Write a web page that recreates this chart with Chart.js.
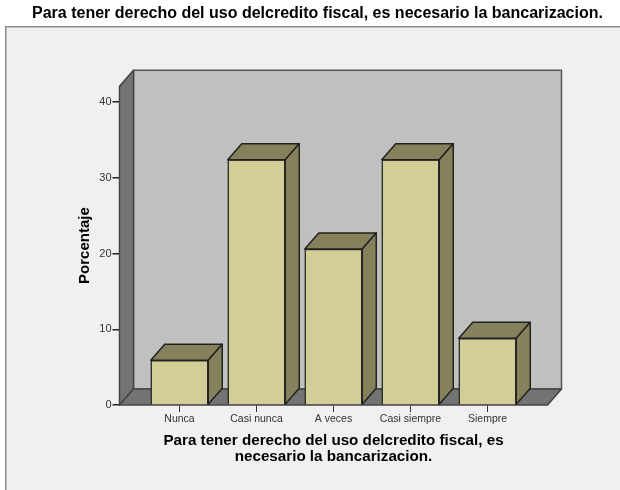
<!DOCTYPE html>
<html lang="es">
<head>
  <meta charset="UTF-8">
  <title>Bancarizacion</title>
  <style>
    html, body { margin: 0; padding: 0; background: #fff; }
    canvas { display: block; }
  </style>
</head>
<body>
  <canvas id="chart" width="620" height="490"></canvas>

  <script src="https://cdn.jsdelivr.net/npm/chart.js"></script>
  <script>
    const categories = ['Nunca', 'Casi nunca', 'A veces', 'Casi siempre', 'Siempre'];
    const porcentaje = [5.9, 32.4, 20.6, 32.4, 8.8];
    const titleText = 'Para tener derecho del uso delcredito fiscal, es necesario la bancarizacion.';
    const xTitleLines = ['Para tener derecho del uso delcredito fiscal, es', 'necesario la bancarizacion.'];
    const yTitleText = 'Porcentaje';

    const DEPTH_X = 14, DEPTH_Y = 16;

    function poly(ctx, pts, fill, stroke, lw) {
      ctx.beginPath();
      pts.forEach((p, i) => i ? ctx.lineTo(p[0], p[1]) : ctx.moveTo(p[0], p[1]));
      ctx.closePath();
      ctx.fillStyle = fill;
      ctx.fill();
      ctx.lineWidth = lw;
      ctx.strokeStyle = stroke;
      ctx.lineJoin = 'round';
      ctx.stroke();
    }

    // grey panel behind everything, with the frame on its top and left
    const panel = {
      id: 'panel',
      beforeDraw(chart) {
        const ctx = chart.ctx;
        ctx.save();
        ctx.fillStyle = '#f0f0f0';
        ctx.fillRect(5, 26, 615, 464);
        ctx.fillStyle = '#8a8a8a';
        ctx.fillRect(5, 26, 615, 1.5);
        ctx.fillRect(5, 26, 1.5, 464);
        ctx.restore();
      }
    };

    // the box the bars stand in: back wall, left wall, floor
    const box = {
      id: 'box',
      beforeDatasetsDraw(chart) {
        const ctx = chart.ctx;
        const { left: l, right: r, top: t, bottom: b } = chart.chartArea;
        const dx = DEPTH_X, dy = DEPTH_Y;
        ctx.save();
        poly(ctx, [[l + dx, t - dy], [r + dx, t - dy], [r + dx, b - dy], [l + dx, b - dy]], '#c0c0c0', '#555', 1.5);
        poly(ctx, [[l, t], [l + dx, t - dy], [l + dx, b - dy], [l, b]], '#737373', '#444', 1.5);
        poly(ctx, [[l, b], [l + dx, b - dy], [r + dx, b - dy], [r, b]], '#737373', '#444', 1.5);
        ctx.restore();
      },
      // top and side faces of each bar
      afterDatasetsDraw(chart) {
        const ctx = chart.ctx;
        const dx = DEPTH_X, dy = DEPTH_Y;
        ctx.save();
        chart.getDatasetMeta(0).data.forEach(bar => {
          const p = bar.getProps(['x', 'y', 'base', 'width']);
          const a = p.x - p.width / 2, c = p.x + p.width / 2;
          poly(ctx, [[a, p.y], [a + dx, p.y - dy], [c + dx, p.y - dy], [c, p.y]], '#85825b', '#222', 1.5);
          poly(ctx, [[c, p.y], [c + dx, p.y - dy], [c + dx, p.base - dy], [c, p.base]], '#85825b', '#222', 1.5);
        });
        ctx.restore();
      }
    };

    new Chart(document.getElementById('chart'), {
      type: 'bar',
      data: {
        datasets: [{
          data: porcentaje.map((v, i) => ({ x: i, y: v })),
          backgroundColor: '#d3ce97',
          borderColor: '#222',
          borderWidth: 1.5,
          barThickness: 57.5
        }]
      },
      plugins: [panel, box],
      options: {
        responsive: false,
        animation: false,
        layout: { padding: { left: 15, right: 0, top: 0, bottom: 26 } },
        plugins: {
          legend: { display: false },
          tooltip: { enabled: false },
          title: {
            display: true,
            text: titleText,
            color: '#000',
            font: { family: 'Liberation Sans', size: 16, weight: 'bold' },
            padding: { top: 4, bottom: 63 }
          }
        },
        scales: {
          x: {
            type: 'linear',
            offset: false,
            min: -0.779,
            max: 4.779,
            grid: { offset: false, drawOnChartArea: false, color: '#333', tickLength: 7 },
            border: { display: false },
            ticks: {
              stepSize: 1,
              includeBounds: false,
              maxRotation: 0,
              autoSkip: false,
              color: '#333',
              font: { family: 'Liberation Sans', size: 10.5 },
              padding: 1,
              callback: v => categories[v]
            },
            title: {
              display: true,
              text: xTitleLines,
              color: '#000',
              font: { family: 'Liberation Sans', size: 15.2, weight: 'bold', lineHeight: 1 },
              padding: { top: 8, bottom: 0 }
            },
            afterFit: s => { s.height = 59; }
          },
          y: {
            min: 0,
            max: 42.1,
            grid: { drawOnChartArea: false, color: '#222', lineWidth: 1.5, tickLength: 7 },
            border: { display: false },
            ticks: {
              stepSize: 10,
              includeBounds: false,
              color: '#333',
              font: { family: 'Liberation Sans', size: 11 },
              padding: 1
            },
            title: {
              display: true,
              text: yTitleText,
              color: '#000',
              font: { family: 'Liberation Sans', size: 15, weight: 'bold' },
              padding: { top: 61, bottom: 0 }
            },
            afterFit: s => { s.width = 104.5; }
          },
          // empty axis, only keeps the margin to the right of the box
          margin: {
            axis: 'y',
            position: 'right',
            grid: { display: false },
            border: { display: false },
            ticks: { display: false },
            afterFit: s => { s.width = 72.5; }
          }
        }
      }
    });
  </script>
</body>
</html>
